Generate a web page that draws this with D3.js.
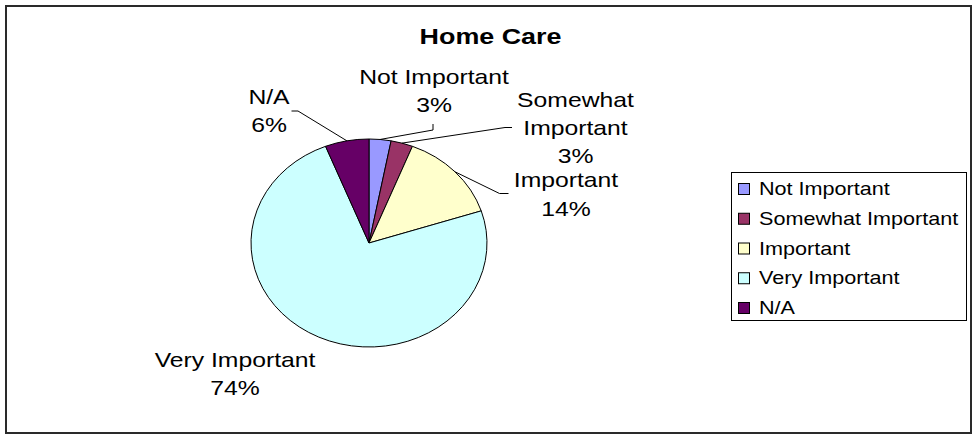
<!DOCTYPE html>
<html>
<head>
<meta charset="utf-8">
<script src="https://cdn.jsdelivr.net/npm/d3@7"></script>
<style>
  html, body { margin: 0; padding: 0; background: #fff; }
  svg { display: block; }
  text { font-family: "Liberation Sans", Arial, sans-serif; fill: #000; }
</style>
</head>
<body>
<svg id="chart" width="973" height="435"></svg>
<script>
// Survey responses for "Home Care" (percent of respondents)
const categories = ["Not Important", "Somewhat Important", "Important", "Very Important", "N/A"];
const values = [3, 3, 14, 74, 6];
const colors = ["#9999FF", "#993366", "#FFFFCC", "#CCFFFF", "#660066"];
const title = "Home Care";

const W = 973, H = 435;
const svg = d3.select("#chart");

// Glyphs are drawn slightly wide, as in the original export
const TX = 1.2;

// Outer chart frame
svg.append("rect")
  .attr("x", 6).attr("y", 6)
  .attr("width", 965).attr("height", 427)
  .attr("fill", "#fff")
  .attr("stroke", "#2a2a2a")
  .attr("stroke-width", 2);

// Title
svg.append("text")
  .attr("transform", `translate(490.5,43.5) scale(${TX},1)`)
  .attr("text-anchor", "middle")
  .attr("font-size", 22.4)
  .attr("font-weight", "bold")
  .text(title);

// Pie plot: elliptical, wider than tall
const cx = 369, cy = 243, rx = 118, ry = 104;
const pie = d3.pie().sort(null).value(d => d.value);
const data = pie(categories.map((c, i) => ({ name: c, value: values[i], color: colors[i] })));
const arc = d3.arc().innerRadius(0).outerRadius(ry);

const pg = svg.append("g")
  .attr("transform", `translate(${cx},${cy}) scale(${rx / ry},1)`);

pg.selectAll("path.slice")
  .data(data)
  .join("path")
  .attr("class", "slice")
  .attr("d", arc)
  .attr("fill", d => d.data.color)
  .attr("stroke", "#000")
  .attr("stroke-width", 1)
  .attr("vector-effect", "non-scaling-stroke");

// Point on the pie's rim at a slice's middle angle
function rimPoint(d) {
  const a = (d.startAngle + d.endAngle) / 2;
  return [cx + rx * Math.sin(a), cy - ry * Math.cos(a)];
}

// Data labels: name + percentage, with optional leader lines
const labelLayout = [
  { x: 434, y: 84,    lines: ["Not Important"],        leader: [[433, 130], [433, 124]] },
  { x: 575.5, y: 106.7, lines: ["Somewhat", "Important"], leader: [[505, 127.5], [512, 127.5]] },
  { x: 566, y: 187.3, lines: ["Important"],            leader: [[499.5, 193.5], [508.5, 193.5]] },
  { x: 235, y: 366.7, lines: ["Very Important"],       leader: null },
  { x: 269, y: 104,   lines: ["N/A"],                  leader: [[298, 111], [291.5, 111]] }
];
const lineGap = 28.3;
const fmt = d3.format(".0f");

data.forEach((d, i) => {
  const L = labelLayout[i];
  const rows = L.lines.concat([fmt(d.data.value) + "%"]);
  rows.forEach((r, k) => {
    svg.append("text")
      .attr("transform", `translate(${L.x},${L.y + k * lineGap}) scale(${TX},1)`)
      .attr("text-anchor", "middle")
      .attr("font-size", 20.6)
      .text(r);
  });
  if (L.leader) {
    const pts = [rimPoint(d)].concat(L.leader);
    svg.append("path")
      .attr("d", d3.line()(pts))
      .attr("fill", "none")
      .attr("stroke", "#000")
      .attr("stroke-width", 1);
  }
});

// Legend
const lg = svg.append("g");
lg.append("rect")
  .attr("x", 731.5).attr("y", 172.5)
  .attr("width", 235).attr("height", 148)
  .attr("fill", "#fff")
  .attr("stroke", "#000")
  .attr("stroke-width", 1);

const legY = d3.scalePoint().domain(categories).range([195, 314]);
const items = lg.selectAll("g.item")
  .data(categories.map((c, i) => ({ name: c, color: colors[i] })))
  .join("g")
  .attr("class", "item");

items.append("rect")
  .attr("x", 738.5)
  .attr("y", d => legY(d.name) - 11.5)
  .attr("width", 11).attr("height", 11)
  .attr("fill", d => d.color)
  .attr("stroke", "#000")
  .attr("stroke-width", 1);

items.append("text")
  .attr("transform", d => `translate(759,${legY(d.name)}) scale(${TX},1)`)
  .attr("font-size", 18)
  .text(d => d.name);
</script>
</body>
</html>
